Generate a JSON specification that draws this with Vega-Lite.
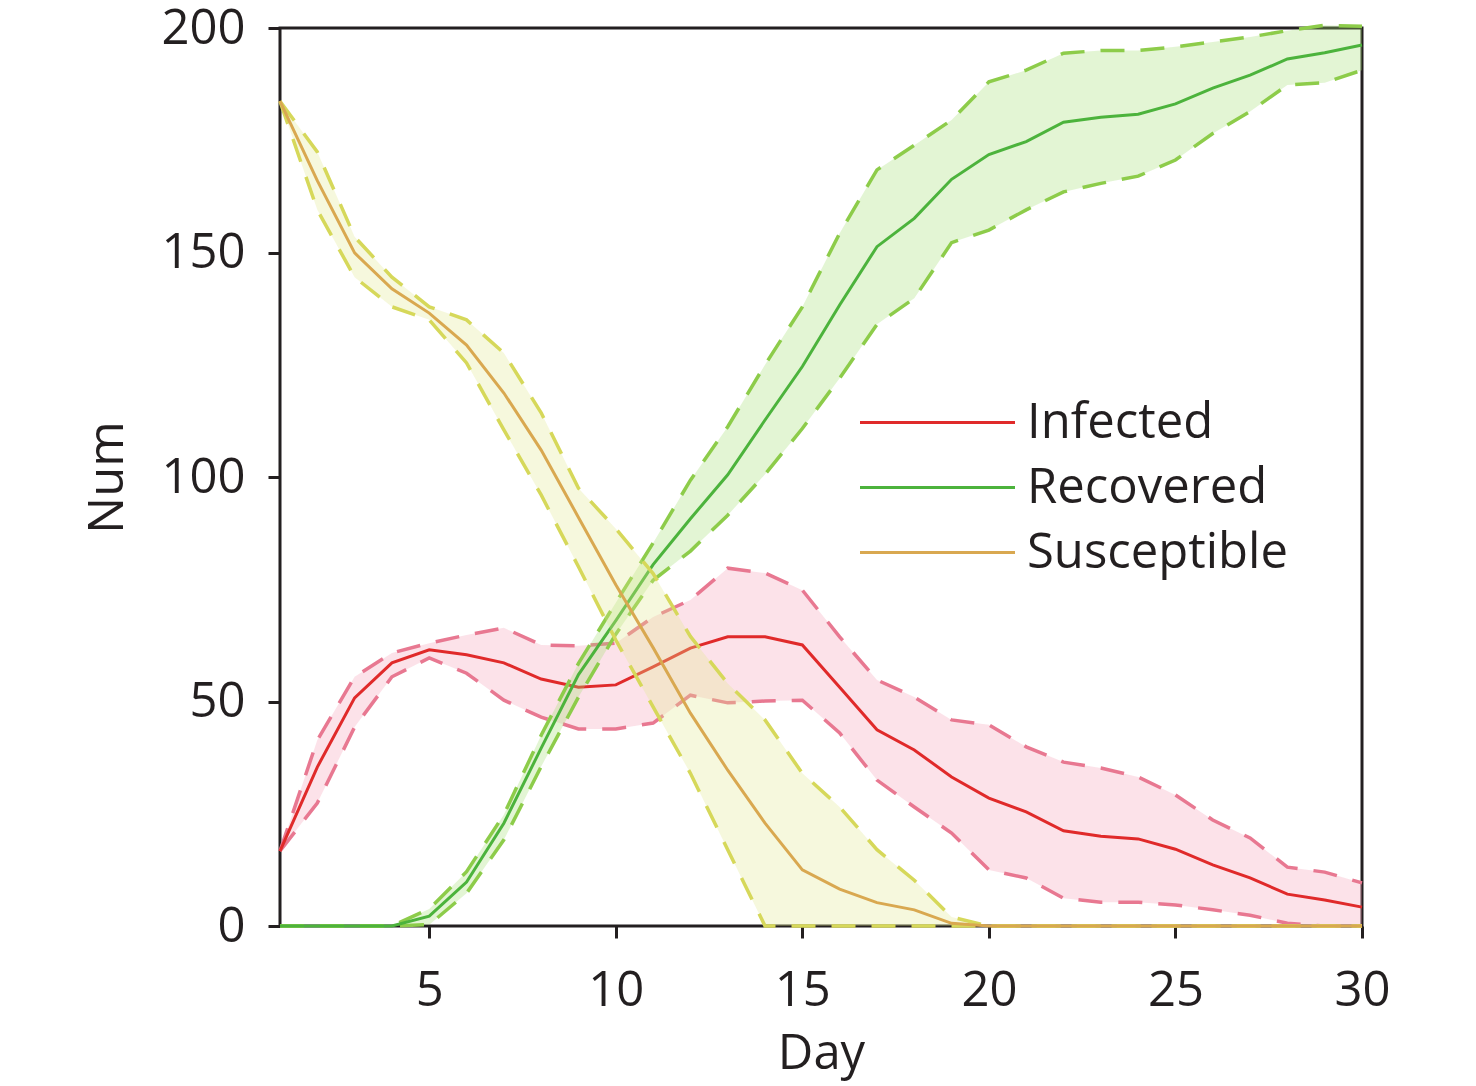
{
  "$schema": "https://vega.github.io/schema/vega-lite/v6.json",
  "width": 1082,
  "height": 898,
  "autosize": {"type": "none"},
  "padding": {"left": 280, "top": 28, "right": 114, "bottom": 160},
  "background": "white",
  "config": {
    "font": "Open Sans",
    "view": {"stroke": "#231f20", "strokeWidth": 3},
    "axis": {
      "domain": false,
      "grid": false,
      "ticks": true,
      "tickSize": 12,
      "tickWidth": 3,
      "tickColor": "#231f20",
      "labelFont": "Open Sans",
      "labelFontSize": 49,
      "labelColor": "#231f20",
      "labelFlush": false,
      "titleFont": "Open Sans",
      "titleFontSize": 49,
      "titleFontWeight": "normal",
      "titleColor": "#231f20"
    },
    "legend": {"padding": 0}
  },
  "datasets": {
    "sir": [
      {"day": 1, "series": "Infected", "mean": 16.7, "lower": 16.7, "upper": 16.7},
      {"day": 2, "series": "Infected", "mean": 35.4, "lower": 27.4, "upper": 41.4},
      {"day": 3, "series": "Infected", "mean": 50.8, "lower": 44.3, "upper": 55.5},
      {"day": 4, "series": "Infected", "mean": 58.6, "lower": 55.5, "upper": 60.8},
      {"day": 5, "series": "Infected", "mean": 61.5, "lower": 59.7, "upper": 63.0},
      {"day": 6, "series": "Infected", "mean": 60.4, "lower": 56.3, "upper": 64.8},
      {"day": 7, "series": "Infected", "mean": 58.6, "lower": 50.3, "upper": 66.4},
      {"day": 8, "series": "Infected", "mean": 55.0, "lower": 46.5, "upper": 62.6},
      {"day": 9, "series": "Infected", "mean": 53.2, "lower": 43.9, "upper": 62.4},
      {"day": 10, "series": "Infected", "mean": 53.7, "lower": 43.9, "upper": 63.0},
      {"day": 11, "series": "Infected", "mean": 57.7, "lower": 45.2, "upper": 68.8},
      {"day": 12, "series": "Infected", "mean": 61.9, "lower": 51.4, "upper": 72.6},
      {"day": 13, "series": "Infected", "mean": 64.4, "lower": 49.7, "upper": 79.7},
      {"day": 14, "series": "Infected", "mean": 64.4, "lower": 50.1, "upper": 78.6},
      {"day": 15, "series": "Infected", "mean": 62.6, "lower": 50.3, "upper": 74.8},
      {"day": 16, "series": "Infected", "mean": 53.2, "lower": 43.0, "upper": 64.4},
      {"day": 17, "series": "Infected", "mean": 43.7, "lower": 32.5, "upper": 54.8},
      {"day": 18, "series": "Infected", "mean": 39.2, "lower": 26.5, "upper": 51.0},
      {"day": 19, "series": "Infected", "mean": 33.2, "lower": 20.7, "upper": 45.9},
      {"day": 20, "series": "Infected", "mean": 28.5, "lower": 12.5, "upper": 44.8},
      {"day": 21, "series": "Infected", "mean": 25.4, "lower": 10.7, "upper": 39.9},
      {"day": 22, "series": "Infected", "mean": 21.2, "lower": 6.2, "upper": 36.5},
      {"day": 23, "series": "Infected", "mean": 20.0, "lower": 5.3, "upper": 35.2},
      {"day": 24, "series": "Infected", "mean": 19.4, "lower": 5.3, "upper": 33.2},
      {"day": 25, "series": "Infected", "mean": 17.1, "lower": 4.7, "upper": 29.2},
      {"day": 26, "series": "Infected", "mean": 13.6, "lower": 3.6, "upper": 23.6},
      {"day": 27, "series": "Infected", "mean": 10.7, "lower": 2.4, "upper": 19.6},
      {"day": 28, "series": "Infected", "mean": 7.1, "lower": 0.6, "upper": 13.1},
      {"day": 29, "series": "Infected", "mean": 5.8, "lower": 0.0, "upper": 12.0},
      {"day": 30, "series": "Infected", "mean": 4.2, "lower": 0.0, "upper": 9.6},
      {"day": 1, "series": "Recovered", "mean": 0, "lower": 0, "upper": 0},
      {"day": 2, "series": "Recovered", "mean": 0, "lower": 0, "upper": 0},
      {"day": 3, "series": "Recovered", "mean": 0, "lower": 0, "upper": 0},
      {"day": 4, "series": "Recovered", "mean": 0, "lower": 0, "upper": 0},
      {"day": 5, "series": "Recovered", "mean": 2.2, "lower": 0.3, "upper": 3.8},
      {"day": 6, "series": "Recovered", "mean": 9.8, "lower": 7.3, "upper": 12.1},
      {"day": 7, "series": "Recovered", "mean": 22.9, "lower": 19.2, "upper": 24.8},
      {"day": 8, "series": "Recovered", "mean": 39.6, "lower": 35.5, "upper": 42.5},
      {"day": 9, "series": "Recovered", "mean": 56.0, "lower": 51.0, "upper": 58.5},
      {"day": 10, "series": "Recovered", "mean": 68.0, "lower": 65.0, "upper": 72.0},
      {"day": 11, "series": "Recovered", "mean": 80.5, "lower": 77.0, "upper": 85.3},
      {"day": 12, "series": "Recovered", "mean": 90.7, "lower": 83.5, "upper": 99.3},
      {"day": 13, "series": "Recovered", "mean": 100.5, "lower": 91.5, "upper": 111.2},
      {"day": 14, "series": "Recovered", "mean": 112.7, "lower": 100.6, "upper": 125.0},
      {"day": 15, "series": "Recovered", "mean": 124.6, "lower": 110.8, "upper": 137.9},
      {"day": 16, "series": "Recovered", "mean": 138.3, "lower": 122.0, "upper": 154.3},
      {"day": 17, "series": "Recovered", "mean": 151.3, "lower": 134.0, "upper": 168.4},
      {"day": 18, "series": "Recovered", "mean": 157.6, "lower": 139.8, "upper": 173.9},
      {"day": 19, "series": "Recovered", "mean": 166.3, "lower": 152.2, "upper": 179.5},
      {"day": 20, "series": "Recovered", "mean": 171.8, "lower": 155.0, "upper": 188.0},
      {"day": 21, "series": "Recovered", "mean": 174.7, "lower": 159.5, "upper": 190.6},
      {"day": 22, "series": "Recovered", "mean": 179.0, "lower": 163.5, "upper": 194.4},
      {"day": 23, "series": "Recovered", "mean": 180.1, "lower": 165.4, "upper": 195.0},
      {"day": 24, "series": "Recovered", "mean": 180.8, "lower": 167.0, "upper": 195.0},
      {"day": 25, "series": "Recovered", "mean": 183.1, "lower": 170.6, "upper": 195.8},
      {"day": 26, "series": "Recovered", "mean": 186.6, "lower": 176.5, "upper": 196.9},
      {"day": 27, "series": "Recovered", "mean": 189.5, "lower": 181.4, "upper": 198.0},
      {"day": 28, "series": "Recovered", "mean": 193.1, "lower": 187.3, "upper": 199.4},
      {"day": 29, "series": "Recovered", "mean": 194.5, "lower": 187.8, "upper": 200.6},
      {"day": 30, "series": "Recovered", "mean": 196.2, "lower": 190.6, "upper": 200.4},
      {"day": 1, "series": "Susceptible", "mean": 183.7, "lower": 183.7, "upper": 183.7},
      {"day": 2, "series": "Susceptible", "mean": 166.0, "lower": 159.5, "upper": 172.4},
      {"day": 3, "series": "Susceptible", "mean": 149.9, "lower": 144.5, "upper": 153.5},
      {"day": 4, "series": "Susceptible", "mean": 141.9, "lower": 137.9, "upper": 144.5},
      {"day": 5, "series": "Susceptible", "mean": 136.5, "lower": 135.0, "upper": 137.9},
      {"day": 6, "series": "Susceptible", "mean": 129.4, "lower": 125.4, "upper": 135.0},
      {"day": 7, "series": "Susceptible", "mean": 118.7, "lower": 110.5, "upper": 127.6},
      {"day": 8, "series": "Susceptible", "mean": 106.0, "lower": 96.0, "upper": 114.3},
      {"day": 9, "series": "Susceptible", "mean": 91.0, "lower": 80.0, "upper": 97.5},
      {"day": 10, "series": "Susceptible", "mean": 76.0, "lower": 63.7, "upper": 88.5},
      {"day": 11, "series": "Susceptible", "mean": 62.0, "lower": 48.8, "upper": 78.5},
      {"day": 12, "series": "Susceptible", "mean": 47.4, "lower": 34.0, "upper": 64.5},
      {"day": 13, "series": "Susceptible", "mean": 34.7, "lower": 17.0, "upper": 54.0},
      {"day": 14, "series": "Susceptible", "mean": 22.9, "lower": 0.0, "upper": 45.9},
      {"day": 15, "series": "Susceptible", "mean": 12.5, "lower": 0.0, "upper": 34.0},
      {"day": 16, "series": "Susceptible", "mean": 8.2, "lower": 0.0, "upper": 26.5},
      {"day": 17, "series": "Susceptible", "mean": 5.2, "lower": 0.0, "upper": 17.0},
      {"day": 18, "series": "Susceptible", "mean": 3.6, "lower": 0.0, "upper": 10.2},
      {"day": 19, "series": "Susceptible", "mean": 0.6, "lower": 0.0, "upper": 2.0},
      {"day": 20, "series": "Susceptible", "mean": 0, "lower": 0, "upper": 0},
      {"day": 21, "series": "Susceptible", "mean": 0, "lower": 0, "upper": 0},
      {"day": 22, "series": "Susceptible", "mean": 0, "lower": 0, "upper": 0},
      {"day": 23, "series": "Susceptible", "mean": 0, "lower": 0, "upper": 0},
      {"day": 24, "series": "Susceptible", "mean": 0, "lower": 0, "upper": 0},
      {"day": 25, "series": "Susceptible", "mean": 0, "lower": 0, "upper": 0},
      {"day": 26, "series": "Susceptible", "mean": 0, "lower": 0, "upper": 0},
      {"day": 27, "series": "Susceptible", "mean": 0, "lower": 0, "upper": 0},
      {"day": 28, "series": "Susceptible", "mean": 0, "lower": 0, "upper": 0},
      {"day": 29, "series": "Susceptible", "mean": 0, "lower": 0, "upper": 0},
      {"day": 30, "series": "Susceptible", "mean": 0, "lower": 0, "upper": 0}
    ]
  },
  "data": {"name": "sir"},
  "encoding": {
    "x": {
      "field": "day",
      "type": "quantitative",
      "scale": {"domain": [1, 30], "nice": false, "zero": false},
      "axis": {"values": [5, 10, 15, 20, 25, 30], "title": "Day", "labelPadding": 28, "titlePadding": 14}
    }
  },
  "layer": [
    {
      "transform": [{"filter": "datum.series === 'Infected'"}],
      "layer": [
        {
          "mark": {"type": "area", "color": "#f59eb6", "opacity": 0.3},
          "encoding": {
            "y": {
              "field": "lower", "type": "quantitative",
              "scale": {"domain": [0, 200], "nice": false},
              "axis": {"values": [0, 50, 100, 150, 200], "title": "Num", "labelPadding": 23, "titlePadding": 28}
            },
            "y2": {"field": "upper"}
          }
        },
        {
          "transform": [{"fold": ["lower", "upper"], "as": ["bound", "val"]}],
          "mark": {"type": "line", "color": "#e87891", "strokeWidth": 3.5, "strokeDash": [24, 16]},
          "encoding": {
            "y": {
              "field": "val", "type": "quantitative",
              "scale": {"domain": [0, 200], "nice": false},
              "axis": {"values": [0, 50, 100, 150, 200], "title": "Num", "labelPadding": 23, "titlePadding": 28}
            },
            "detail": {"field": "bound"}
          }
        },
        {
          "mark": {"type": "line", "strokeWidth": 3},
          "encoding": {
            "y": {
              "field": "mean", "type": "quantitative",
              "scale": {"domain": [0, 200], "nice": false},
              "axis": {"values": [0, 50, 100, 150, 200], "title": "Num", "labelPadding": 23, "titlePadding": 28}
            },
            "color": {
              "field": "series",
              "type": "nominal",
              "scale": {"domain": ["Infected", "Recovered", "Susceptible"], "range": ["#e02a2a", "#4cb33c", "#d9a850"]},
              "legend": {
                "orient": "none", "legendX": 633, "legendY": 370, "title": null,
                "symbolType": "M-5,0H5", "symbolSize": 961, "symbolStrokeWidth": 3,
                "labelFont": "Open Sans", "labelFontSize": 49, "labelColor": "#231f20",
                "labelOffset": 65, "rowPadding": 15, "labelLimit": 500
              }
            }
          }
        }
      ]
    },
    {
      "transform": [{"filter": "datum.series === 'Recovered'"}],
      "layer": [
        {
          "mark": {"type": "area", "color": "#a2de70", "opacity": 0.3},
          "encoding": {
            "y": {
              "field": "lower", "type": "quantitative",
              "scale": {"domain": [0, 200], "nice": false},
              "axis": {"values": [0, 50, 100, 150, 200], "title": "Num", "labelPadding": 23, "titlePadding": 28}
            },
            "y2": {"field": "upper"}
          }
        },
        {
          "transform": [{"fold": ["lower", "upper"], "as": ["bound", "val"]}],
          "mark": {"type": "line", "color": "#8dcc4a", "strokeWidth": 3.5, "strokeDash": [24, 16]},
          "encoding": {
            "y": {
              "field": "val", "type": "quantitative",
              "scale": {"domain": [0, 200], "nice": false},
              "axis": {"values": [0, 50, 100, 150, 200], "title": "Num", "labelPadding": 23, "titlePadding": 28}
            },
            "detail": {"field": "bound"}
          }
        },
        {
          "mark": {"type": "line", "strokeWidth": 3},
          "encoding": {
            "y": {
              "field": "mean", "type": "quantitative",
              "scale": {"domain": [0, 200], "nice": false},
              "axis": {"values": [0, 50, 100, 150, 200], "title": "Num", "labelPadding": 23, "titlePadding": 28}
            },
            "color": {"field": "series", "type": "nominal"}
          }
        }
      ]
    },
    {
      "transform": [{"filter": "datum.series === 'Susceptible'"}],
      "layer": [
        {
          "mark": {"type": "area", "color": "#e1e88e", "opacity": 0.3},
          "encoding": {
            "y": {
              "field": "lower", "type": "quantitative",
              "scale": {"domain": [0, 200], "nice": false},
              "axis": {"values": [0, 50, 100, 150, 200], "title": "Num", "labelPadding": 23, "titlePadding": 28}
            },
            "y2": {"field": "upper"}
          }
        },
        {
          "transform": [{"fold": ["lower", "upper"], "as": ["bound", "val"]}],
          "mark": {"type": "line", "color": "#d6d85a", "strokeWidth": 3.5, "strokeDash": [24, 16]},
          "encoding": {
            "y": {
              "field": "val", "type": "quantitative",
              "scale": {"domain": [0, 200], "nice": false},
              "axis": {"values": [0, 50, 100, 150, 200], "title": "Num", "labelPadding": 23, "titlePadding": 28}
            },
            "detail": {"field": "bound"}
          }
        },
        {
          "mark": {"type": "line", "strokeWidth": 3},
          "encoding": {
            "y": {
              "field": "mean", "type": "quantitative",
              "scale": {"domain": [0, 200], "nice": false},
              "axis": {"values": [0, 50, 100, 150, 200], "title": "Num", "labelPadding": 23, "titlePadding": 28}
            },
            "color": {"field": "series", "type": "nominal"}
          }
        }
      ]
    }
  ]
}
